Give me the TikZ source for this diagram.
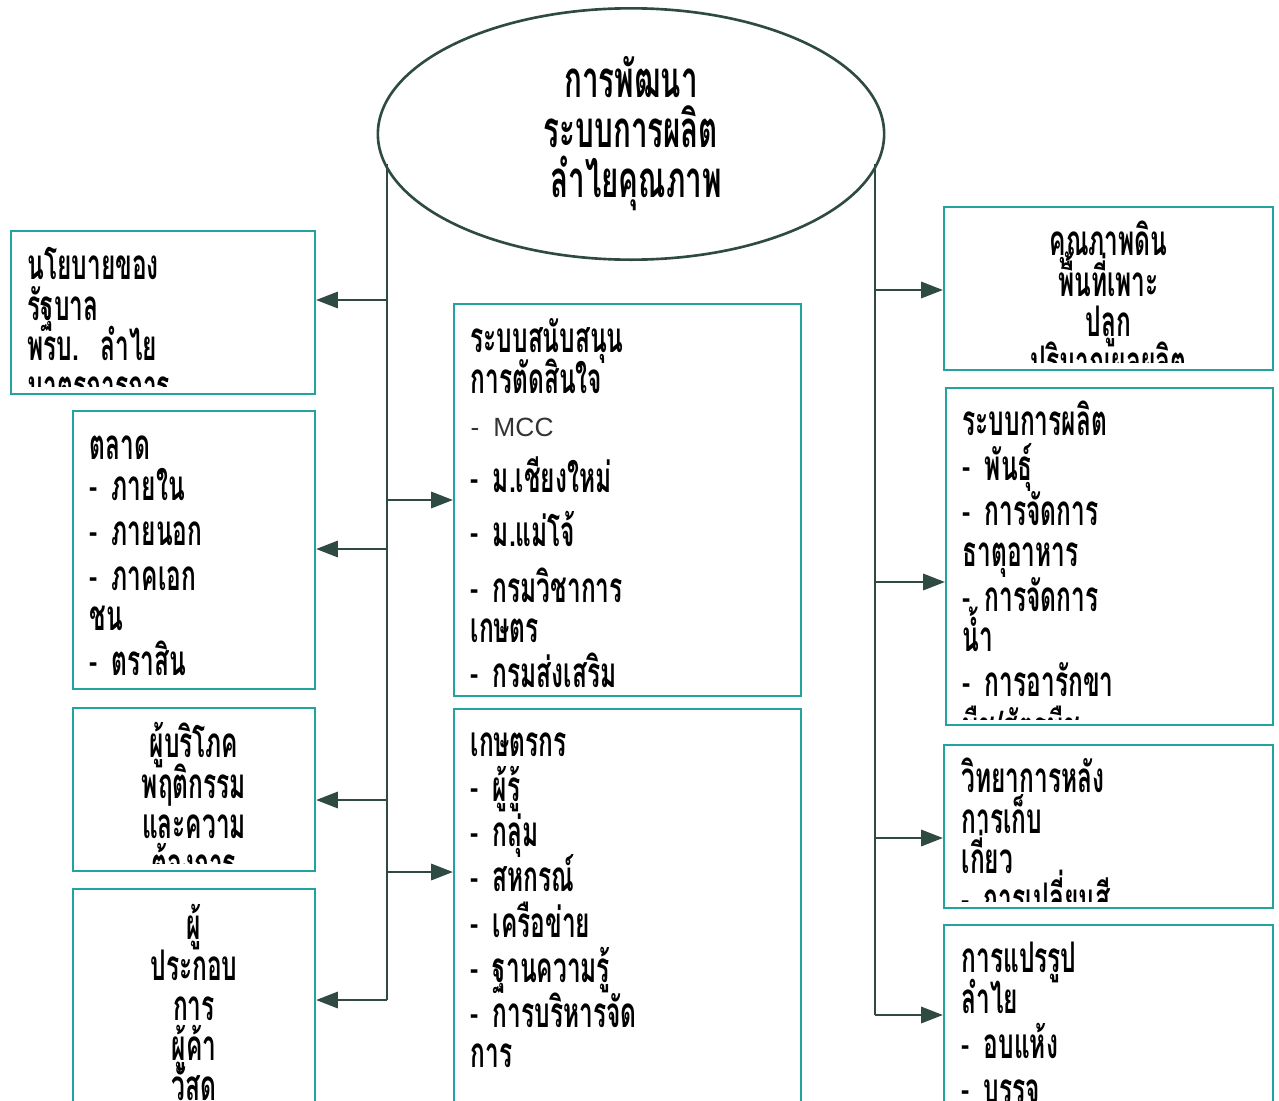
\documentclass[tikz,border=0pt]{standalone}
\usepackage{fontspec}
\newfontfamily\thaifont[Script=Thai,FakeStretch=0.58]{Loma}
\newfontfamily\latinfont{Liberation Sans}
\usetikzlibrary{arrows.meta,shapes.geometric,fit}

\definecolor{lineGreen}{HTML}{2E4A42}
\definecolor{boxTeal}{HTML}{22A39F}

\newcommand{\nl}{\\[1.4pt]}
\newcommand{\itm}{{\mdseries-}\ }
\newcommand{\tightlines}{\lineskiplimit=-20pt\relax}

\begin{document}
\begin{tikzpicture}[x=0.01cm, y=-0.01cm,
    spine/.style={draw=lineGreen, line width=0.75pt},
    arr/.style={spine, -{Triangle[length=6.2pt,width=4.6pt]}},
    tbox/.style={draw=boxTeal, line width=0.6pt, inner sep=0pt},
    txt/.style={anchor=base west, inner sep=0pt, text width=#1, align=left,
        font=\thaifont\bfseries\fontsize{12}{11.4}\selectfont\tightlines},
    ctxt/.style={txt=#1, anchor=base, align=center}]
    \clip (0,0) rectangle (1279,1100);

    % centre
    \node[ellipse, draw=lineGreen, line width=0.75pt, minimum width=5.06cm, minimum height=2.46cm,
        align=center, font=\thaifont\bfseries\fontsize{14.5}{14.2}\selectfont\tightlines]
        (ell) at (631,134) {การพัฒนา\\ระบบการผลิต\\ \ ลำไยคุณภาพ};

    % boxes
    \node[tbox, fit={(11,231) (315,394)}] (pol) {};
    \node[tbox, fit={(73,411) (315,689)}] (mkt) {};
    \node[tbox, fit={(73,708) (315,871)}] (con) {};
    \node[tbox, fit={(73,889) (315,1115)}] (sup) {};
    \node[tbox, fit={(454,304) (801,696)}] (dss) {};
    \node[tbox, fit={(454,709) (801,1115)}] (frm) {};
    \node[tbox, fit={(944,207) (1273,370)}] (soil) {};
    \node[tbox, fit={(946,388) (1273,725)}] (prod) {};
    \node[tbox, fit={(944,745) (1273,908)}] (post) {};
    \node[tbox, fit={(944,925) (1273,1115)}] (proc) {};

    % texts
    \begin{scope}
        \clip (pol.north west) rectangle ([shift={(0,-9)}]pol.south east);
        \node[txt=2.8cm] (poltxt) at ([shift={(17,50)}]pol.north west)
            {นโยบายของ\\รัฐบาล\\พรบ. ลำไย\\มาตรการการ};
    \end{scope}
    \node[txt=2.2cm] (mkttxt) at ([shift={(17,50)}]mkt.north west)
        {ตลาด\\\itm ภายใน\nl\itm ภายนอก\nl\itm ภาคเอก\\ชน\nl\itm ตราสิน};
    \begin{scope}
        \clip (con.north west) rectangle ([shift={(0,-9)}]con.south east);
        \node[ctxt=2.2cm] (contxt) at ([shift={(0,51)}]con.north)
            {ผู้บริโภค\\พฤติกรรม\\และความ\\ต้องการ};
    \end{scope}
    \begin{scope}
        \clip (sup.north west) rectangle (sup.south east);
        \node[ctxt=2.2cm] (suptxt) at ([shift={(0,52)}]sup.north)
            {ผู้\\ประกอบ\\การ\\ผู้ค้า\\วัสดุ};
    \end{scope}
    \node[txt=3.2cm] (dsstxt) at ([shift={(17,50)}]dss.north west)
        {ระบบสนับสนุน\\การตัดสินใจ\\[0.9pt]
         {\mdseries\latinfont\fontsize{7.5}{9}\selectfont\color{black!80}- MCC}\\[4.5pt]
         \itm ม.เชียงใหม่\\[4pt]
         \itm ม.แม่โจ้\\[4.5pt]
         \itm กรมวิชาการ\\เกษตร\nl\itm กรมส่งเสริม};
    \node[txt=3.2cm] (frmtxt) at ([shift={(17,49)}]frm.north west)
        {เกษตรกร\nl\itm ผู้รู้\nl\itm กลุ่ม\nl\itm สหกรณ์\nl\itm เครือข่าย\nl
         \itm ฐานความรู้\nl\itm การบริหารจัด\\การ};
    \begin{scope}
        \clip (soil.north west) rectangle ([shift={(0,-9)}]soil.south east);
        \node[ctxt=3.1cm] (soiltxt) at ([shift={(0,50)}]soil.north)
            {คุณภาพดิน\\พื้นที่เพาะ\\ปลูก\\ปริมาณผลผลิต};
    \end{scope}
    \begin{scope}
        \clip (prod.north west) rectangle ([shift={(0,-7)}]prod.south east);
        \node[txt=3cm] (prodtxt) at ([shift={(17,49)}]prod.north west)
            {ระบบการผลิต\nl\itm พันธุ์\nl\itm การจัดการ\\ธาตุอาหาร\nl\itm การจัดการ\\น้ำ\nl
             \itm การอารักขา\nl พืช/ศัตรูพืช};
    \end{scope}
    \begin{scope}
        \clip (post.north west) rectangle ([shift={(0,-8)}]post.south east);
        \node[txt=3cm] (posttxt) at ([shift={(18,49)}]post.north west)
            {วิทยาการหลัง\\การเก็บ\\เกี่ยว\\\itm การเปลี่ยนสี};
    \end{scope}
    \begin{scope}
        \clip (proc.north west) rectangle (proc.south east);
        \node[txt=3cm] (proctxt) at ([shift={(18,49)}]proc.north west)
            {การแปรรูป\\ลำไย\nl\itm อบแห้ง\nl\itm บรรจุ};
    \end{scope}

    % spines
    \coordinate (ltop) at (ell.187.5 -| 387,0);
    \coordinate (rtop) at (ell.-7.5 -| 875,0);
    \draw[spine] (ltop) -- (ltop |- 0,1000);
    \draw[spine] (rtop) -- (rtop |- 0,1015);

    % arrows
    \coordinate (a1) at (387,300);
    \coordinate (a2) at (387,549);
    \coordinate (a3) at (387,800);
    \coordinate (a4) at (387,1000);
    \coordinate (a5) at (387,500);
    \coordinate (a6) at (387,872);
    \draw[arr] (a1) -- (a1 -| pol.east);
    \draw[arr] (a2) -- (a2 -| mkt.east);
    \draw[arr] (a3) -- (a3 -| con.east);
    \draw[arr] (a4) -- (a4 -| sup.east);
    \draw[arr] (a5) -- (a5 -| dss.west);
    \draw[arr] (a6) -- (a6 -| frm.west);
    \coordinate (b1) at (875,290);
    \coordinate (b2) at (875,582);
    \coordinate (b3) at (875,838);
    \coordinate (b4) at (875,1015);
    \draw[arr] (b1) -- (b1 -| soil.west);
    \draw[arr] (b2) -- (b2 -| prod.west);
    \draw[arr] (b3) -- (b3 -| post.west);
    \draw[arr] (b4) -- (b4 -| proc.west);
\end{tikzpicture}
\end{document}
